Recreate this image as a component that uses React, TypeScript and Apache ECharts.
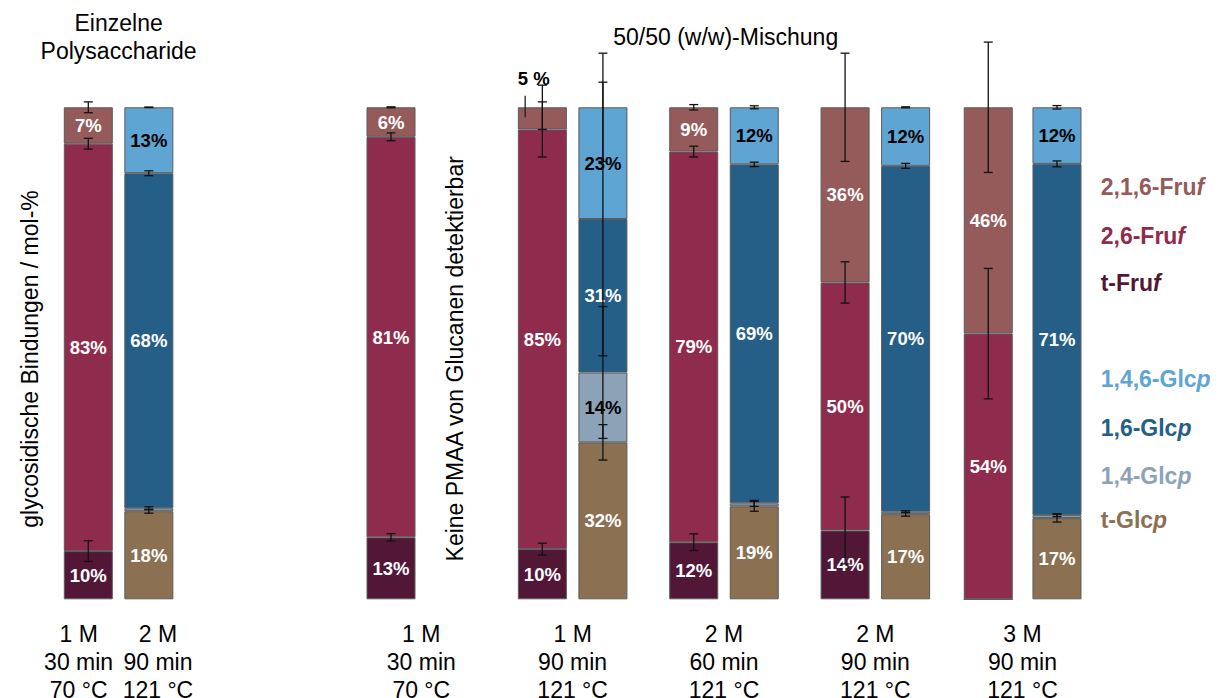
import React, { useEffect, useRef } from 'react';
import * as echarts from 'echarts';

// x slot of every bar (fructan bars and glucan bars alternate; slot 12 stays empty)
const BAR_SLOTS = [0, 2, 10, 15, 17, 20, 22, 25, 27, 29.73, 32];

// Fructan linkages, mol-% (null = bar holds glucan linkages)
const T_FRUF = [9.8, null, 12.6, 10.2, null, 11.6, null, 14.0, null, 0, null];
const FRUF_26 = [82.8, null, 81.4, 85.3, null, 79.4, null, 50.4, null, 54.0, null];
const FRUF_216 = [7.4, null, 6.0, 4.5, null, 9.0, null, 35.6, null, 46.0, null];

// Glucan linkages, mol-% (null = bar holds fructan linkages)
const T_GLCP = [null, 17.9, null, null, 31.9, null, 18.9, null, 17.3, null, 16.5];
const GLCP_14 = [null, 0.6, null, null, 14.2, null, 0.6, null, 0.5, null, 0.6];
const GLCP_16 = [null, 68.1, null, null, 31.2, null, 68.9, null, 70.3, null, 71.4];
const GLCP_146 = [null, 13.4, null, null, 22.7, null, 11.6, null, 11.9, null, 11.5];

// Standard deviations, drawn at the top of each segment
const T_FRUF_SD = [2.1, null, 0.75, 1.2, null, 1.7, null, 6.8, null, null, null];
const FRUF_26_SD = [1.1, null, 0.8, 5.6, null, 1.1, null, 4.2, null, 13.25, null];
const FRUF_216_SD = [1.1, null, 0.1, 4.5, null, 0.55, null, 11, null, 13.25, null];
const T_GLCP_SD = [null, 0.4, null, null, 3.6, null, 1.0, null, 0.4, null, 0.8];
const GLCP_14_SD = [null, 0.3, null, null, 13.4, null, 0.6, null, 0.2, null, 0.3];
const GLCP_16_SD = [null, 0.5, null, null, 27.8, null, 0.45, null, 0.5, null, 0.6];
const GLCP_146_SD = [null, 0.05, null, null, 11, null, 0.3, null, 0.1, null, 0.35];

// Hydrolysis conditions below the bars
const CONDITION_SLOTS = [-0.32, 2.3, 11, 16, 21, 26, 30.86];
const CONDITION_TEXTS = [
  '1 M\n30 min\n70 °C',
  '2 M\n90 min\n121 °C',
  '1 M\n30 min\n70 °C',
  '1 M\n90 min\n121 °C',
  '2 M\n60 min\n121 °C',
  '2 M\n90 min\n121 °C',
  '3 M\n90 min\n121 °C',
];

// Legend entries: [name, italic ending]
const FRU_LEGEND: [string, string][] = [['2,1,6-Fru', 'f'], ['2,6-Fru', 'f'], ['t-Fru', 'f']];
const GLC_LEGEND: [string, string][] = [['1,4,6-Glc', 'p'], ['1,6-Glc', 'p'], ['1,4-Glc', 'p'], ['t-Glc', 'p']];

const FONT = '"Liberation Sans", Arial, Helvetica, sans-serif';

const C_FRUF_216 = '#955b5a';
const C_FRUF_26 = '#8f2b4c';
const C_T_FRUF = '#521637';
const C_GLCP_146 = '#5ea5d3';
const C_GLCP_16 = '#255e86';
const C_GLCP_14 = '#8ca3b7';
const C_T_GLCP = '#8b7052';

type Vals = (number | null)[];

// Data rows are [share, slot]; the share comes first so that it is the stacked dimension
function barSeries(name: string, values: Vals, color: string, labelColor: string) {
  return {
    type: 'bar',
    name,
    stack: 'total',
    barWidth: 49,
    z: 2,
    encode: { x: 1, y: 0 },
    itemStyle: { color, borderColor: '#5a5a5a', borderWidth: 1 },
    label: {
      show: true,
      position: 'inside',
      color: labelColor,
      fontSize: 18.5,
      fontWeight: 'bold',
      fontFamily: FONT,
      formatter: (p: any) => `${Math.round(p.value[0])}%`,
    },
    data: values.map((v, i) => ({
      value: [v, BAR_SLOTS[i]],
      label: { show: v != null && v >= 5.5 },
    })),
  };
}

// [x, segment top, sd] for every segment that carries a standard deviation
function errorPoints(stack: [Vals, Vals][]) {
  const out: number[][] = [];
  BAR_SLOTS.forEach((slot, i) => {
    let cum = 0;
    stack.forEach(([vals, sds]) => {
      const v = vals[i];
      if (v == null) return;
      cum += v;
      const sd = sds[i];
      if (sd != null) out.push([slot, cum, sd]);
    });
  });
  return out;
}

const FRU_STACK: [Vals, Vals][] = [
  [T_FRUF, T_FRUF_SD],
  [FRUF_26, FRUF_26_SD],
  [FRUF_216, FRUF_216_SD],
];
const GLC_STACK: [Vals, Vals][] = [
  [T_GLCP, T_GLCP_SD],
  [GLCP_14, GLCP_14_SD],
  [GLCP_16, GLCP_16_SD],
  [GLCP_146, GLCP_146_SD],
];

function renderErrorBar(_params: any, api: any) {
  const x = api.value(0);
  const top = api.value(1);
  const sd = api.value(2);
  const c = api.coord([x, top]);
  const hi = api.coord([x, top + sd]);
  const lo = api.coord([x, top - sd]);
  const cap = 4.5;
  const style = { stroke: '#111', lineWidth: 1.3 };
  return {
    type: 'group',
    children: [
      { type: 'line', shape: { x1: c[0], y1: hi[1], x2: c[0], y2: lo[1] }, style },
      { type: 'line', shape: { x1: c[0] - cap, y1: hi[1], x2: c[0] + cap, y2: hi[1] }, style },
      { type: 'line', shape: { x1: c[0] - cap, y1: lo[1], x2: c[0] + cap, y2: lo[1] }, style },
    ],
  };
}

// Small 2,1,6-Fruf share of the 1 M / 90 min mixture, labelled above the bar
const CALLOUT_BAR = 3;
const calloutTop = (T_FRUF[CALLOUT_BAR] ?? 0) + (FRUF_26[CALLOUT_BAR] ?? 0) + (FRUF_216[CALLOUT_BAR] ?? 0);

function renderCallout(_params: any, api: any) {
  const c = api.coord([api.value(0), api.value(1)]);
  const left = c[0] - 24.5;
  return {
    type: 'group',
    children: [
      {
        type: 'text',
        x: left,
        y: c[1] - 29,
        style: {
          text: `${Math.round(api.value(2))} %`,
          fill: '#000',
          fontSize: 18.5,
          fontWeight: 'bold',
          fontFamily: FONT,
          align: 'left',
          textAlign: 'left',
          verticalAlign: 'middle',
          textVerticalAlign: 'middle',
        },
      },
      {
        type: 'line',
        shape: { x1: left + 7.3, y1: c[1] - 11.6, x2: left + 7.3, y2: c[1] + 10 },
        style: { stroke: '#222', lineWidth: 1.3 },
      },
    ],
  };
}

function renderCondition(params: any, api: any) {
  const c = api.coord([api.value(0), 0]);
  return {
    type: 'text',
    x: c[0],
    y: c[1] + 20.9,
    style: {
      text: CONDITION_TEXTS[params.dataIndex],
      fill: '#000',
      fontSize: 23,
      fontFamily: FONT,
      lineHeight: 28,
      align: 'center',
      textAlign: 'center',
      verticalAlign: 'top',
      textVerticalAlign: 'top',
    },
  };
}

function legendText(entry: [string, string], color: string, y: number) {
  const base = { fontSize: 23, fontWeight: 'bold', fontFamily: FONT };
  return {
    type: 'text',
    x: 1100.7,
    y,
    style: {
      text: `{n|${entry[0]}}{i|${entry[1]}}`,
      fill: color,
      ...base,
      rich: {
        n: { ...base },
        i: { ...base, fontStyle: 'italic' },
      },
      align: 'left',
      textAlign: 'left',
      verticalAlign: 'middle',
      textVerticalAlign: 'middle',
    },
  };
}

function plainText(text: string, x: number, y: number, extra: any = {}) {
  return {
    type: 'text',
    x,
    y,
    ...extra,
    style: {
      text,
      fill: '#000',
      fontSize: 23,
      fontFamily: FONT,
      align: 'center',
      textAlign: 'center',
      verticalAlign: 'middle',
      textVerticalAlign: 'middle',
      ...(extra.style || {}),
    },
  };
}

const FRU_COLORS = [C_FRUF_216, C_FRUF_26, C_T_FRUF];
const GLC_COLORS = [C_GLCP_146, C_GLCP_16, C_GLCP_14, C_T_GLCP];
const FRU_LEGEND_Y = [186.7, 235.7, 283.3];
const GLC_LEGEND_Y = [379, 427.7, 476, 520];

const option: any = {
  animation: false,
  backgroundColor: '#ffffff',
  grid: { left: 27.76, top: 107.3, width: 1150.3, height: 492 },
  xAxis: { type: 'value', min: -2, max: 36, show: false },
  yAxis: { type: 'value', min: 0, max: 100, show: false },
  series: [
    barSeries('t-Fruf', T_FRUF, C_T_FRUF, '#fff'),
    barSeries('2,6-Fruf', FRUF_26, C_FRUF_26, '#fff'),
    barSeries('2,1,6-Fruf', FRUF_216, C_FRUF_216, '#fff'),
    barSeries('t-Glcp', T_GLCP, C_T_GLCP, '#fff'),
    barSeries('1,4-Glcp', GLCP_14, C_GLCP_14, '#000'),
    barSeries('1,6-Glcp', GLCP_16, C_GLCP_16, '#fff'),
    barSeries('1,4,6-Glcp', GLCP_146, C_GLCP_146, '#000'),
    {
      type: 'custom',
      name: 'SD',
      z: 5,
      silent: true,
      renderItem: renderErrorBar,
      encode: { x: 0, y: 1 },
      data: [...errorPoints(FRU_STACK), ...errorPoints(GLC_STACK)],
    },
    {
      type: 'custom',
      name: 'callout',
      z: 5,
      silent: true,
      renderItem: renderCallout,
      encode: { x: 0, y: 1 },
      data: [[BAR_SLOTS[CALLOUT_BAR], calloutTop, FRUF_216[CALLOUT_BAR]]],
    },
    {
      type: 'custom',
      name: 'conditions',
      z: 5,
      silent: true,
      renderItem: renderCondition,
      encode: { x: 0, y: 1 },
      data: CONDITION_SLOTS.map((s) => [s, 0]),
    },
  ],
  graphic: [
    plainText('Einzelne\nPolysaccharide', 118.6, 9.6, {
      style: { verticalAlign: 'top', textVerticalAlign: 'top', lineHeight: 27.7 },
    }),
    plainText('50/50 (w/w)-Mischung', 725.7, 36.8),
    plainText('glycosidische Bindungen / mol-%', 29.5, 359, { rotation: Math.PI / 2 }),
    plainText('Keine PMAA von Glucanen detektierbar', 455.3, 358.8, { rotation: Math.PI / 2 }),
    ...FRU_LEGEND.map((e, i) => legendText(e, FRU_COLORS[i], FRU_LEGEND_Y[i])),
    ...GLC_LEGEND.map((e, i) => legendText(e, GLC_COLORS[i], GLC_LEGEND_Y[i])),
  ],
};

export default function App() {
  const ref = useRef<HTMLDivElement>(null);
  useEffect(() => {
    const chart = echarts.init(ref.current!, null, { renderer: 'svg' });
    chart.setOption(option);
    return () => chart.dispose();
  }, []);
  return (
    <div
      ref={ref}
      style={{ position: 'absolute', left: 0, top: 0, width: 1220, height: 698 }}
    />
  );
}
